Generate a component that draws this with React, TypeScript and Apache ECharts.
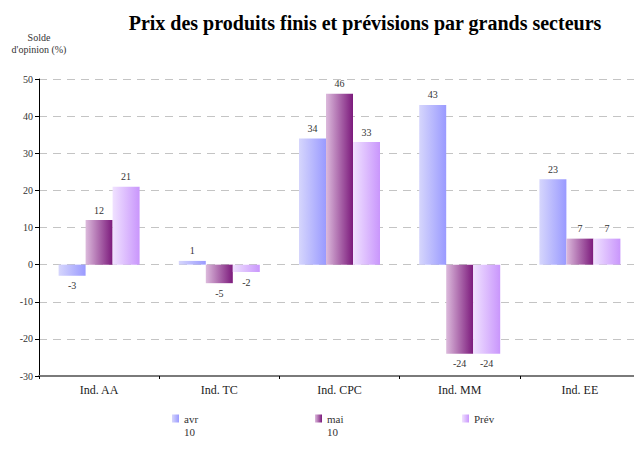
import React, { useEffect, useRef } from "react";
import * as echarts from "echarts";

const categories = ["Ind. AA", "Ind. TC", "Ind. CPC", "Ind. MM", "Ind. EE"];
const seriesNames = ["avr 10", "mai 10", "Prév"];
const avrValues = [-3, 1, 34, 43, 23];
const maiValues = [12, -5, 46, -24, 7];
const prevValues = [21, -2, 33, -24, 7];
const yTicks = { min: -30, max: 50, interval: 10 };

const FONT = "Liberation Serif, DejaVu Serif, serif";

const grad = (a: string, b: string) =>
  new echarts.graphic.LinearGradient(0, 0, 1, 0, [
    { offset: 0, color: a },
    { offset: 1, color: b },
  ]);

const colors = [
  grad("#d6d6fc", "#9a9aff"),
  grad("#dcbadc", "#7c1a7c"),
  grad("#f0e2ff", "#c996fc"),
];

export default function App() {
  const ref = useRef<HTMLDivElement>(null);
  useEffect(() => {
    if (!ref.current) return;
    const chart = echarts.init(ref.current, undefined, { renderer: "svg" });
    const all = [avrValues, maiValues, prevValues];
    const iconLefts = [172, 315, 462];
    const secondLines = seriesNames.map((n) => n.split(" ")[1] || "");
    chart.setOption({
      animation: false,
      backgroundColor: "#ffffff",
      title: {
        text: "Prix des produits finis et prévisions par grands secteurs",
        left: 360,
        top: 8,
        textAlign: "center",
        textStyle: { fontFamily: FONT, fontSize: 20, fontWeight: "bold", color: "#000" },
      },
      graphic: [
        {
          type: "text",
          x: 39,
          y: 31,
          style: {
            text: "Solde\nd'opinion (%)",
            fontFamily: FONT,
            fontSize: 10,
            fill: "#333",
            align: "center",
            lineHeight: 12,
          },
        },
        ...secondLines
          .map((t, i) =>
            t
              ? {
                  type: "text",
                  x: iconLefts[i] + 12,
                  y: 426,
                  style: { text: t, fontFamily: FONT, fontSize: 11, fill: "#333" },
                }
              : null
          )
          .filter(Boolean),
      ],
      legend: seriesNames.map((n, i) => ({
        data: [n],
        left: iconLefts[i] - 5,
        top: 408,
        itemWidth: 7,
        itemHeight: 8,
        icon: "rect",
        formatter: (name: string) => name.split(" ")[0],
        textStyle: { fontFamily: FONT, fontSize: 11, color: "#333" },
        selectedMode: false,
      })),
      grid: { left: 39, right: 10, top: 79, bottom: 79, containLabel: false },
      xAxis: [
        {
          type: "category",
          data: categories,
          position: "bottom",
          axisLine: { show: false },
          axisTick: { show: false },
          axisLabel: { fontFamily: FONT, fontSize: 12, color: "#222", margin: 8 },
        },
        {
          type: "category",
          data: categories,
          position: "bottom",
          axisLine: { show: true, onZero: true, lineStyle: { color: "#7a7a7a", width: 2 } },
          axisTick: { show: true, length: 3, lineStyle: { color: "#000" } },
          axisLabel: { show: false },
        },
      ],
      yAxis: {
        type: "value",
        min: yTicks.min,
        max: yTicks.max,
        interval: yTicks.interval,
        axisLine: { show: true, lineStyle: { color: "#000", width: 1 } },
        axisTick: { show: true, length: 4, lineStyle: { color: "#000" } },
        axisLabel: { fontFamily: FONT, fontSize: 10, color: "#333", margin: 6 },
        splitLine: { show: true, lineStyle: { color: "#c4c4c4", type: [8, 6] } },
      },
      series: seriesNames.map((n, i) => ({
        name: n,
        type: "bar",
        barWidth: 27,
        barGap: "0%",
        itemStyle: { color: colors[i] },
        data: all[i].map((v) => ({
          value: v,
          label: {
            show: true,
            position: v < 0 ? "bottom" : "top",
            distance: 5,
            fontFamily: FONT,
            fontSize: 10,
            color: "#333",
          },
        })),
      })),
    });
    return () => chart.dispose();
  }, []);
  return (
    <div style={{ position: "fixed", left: 0, top: 0, width: 634, height: 455, overflow: "hidden" }}>
      <div ref={ref} style={{ width: 650, height: 455 }} />
    </div>
  );
}
